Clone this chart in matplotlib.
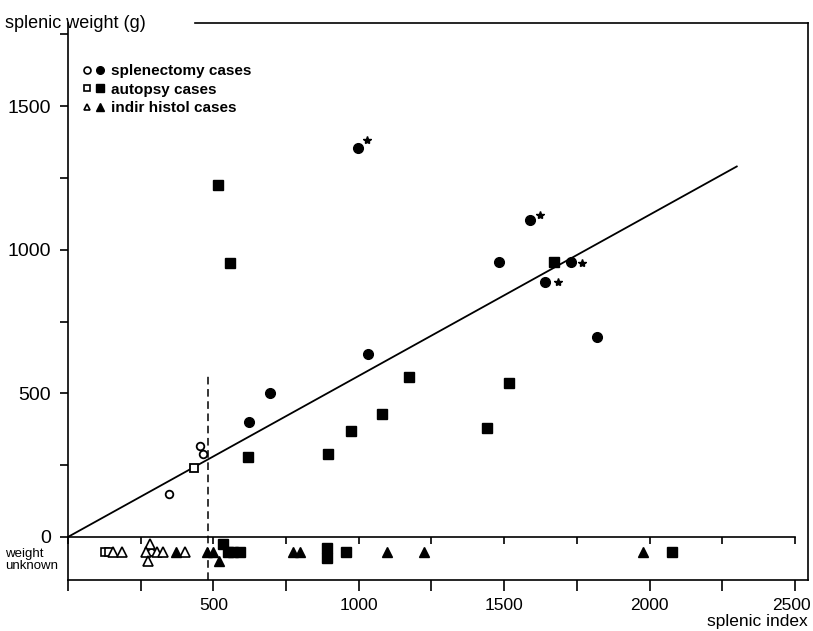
import matplotlib.pyplot as plt
from matplotlib.lines import Line2D
from matplotlib.legend_handler import HandlerTuple
from matplotlib.transforms import ScaledTranslation

plt.rcParams['font.family'] = ['Liberation Sans', 'DejaVu Sans']

# splenectomy cases (circles)
spl_open_x = [347, 454, 464]
spl_open_y = [150, 317, 289]
spl_fill_x = [997, 622, 695, 1032, 1482, 1589, 1640, 1730, 1819]
spl_fill_y = [1354, 400, 501, 637, 957, 1103, 888, 957, 696]

# autopsy cases (squares)
aut_open_x = [433]
aut_open_y = [240]
aut_fill_x = [516, 557, 619, 894, 973, 1080, 1173, 1441, 1517, 1671]
aut_fill_y = [1225, 954, 278, 289, 369, 428, 557, 379, 536, 957]

# small asterisks next to some cases
star_x = [1028, 1623, 1768, 1685]
star_y = [1382, 1121, 954, 888]

# weight unknown strip (y only places the mark inside the strip)
unk_spl_open_x = [284]
unk_spl_open_y = [-52]
unk_aut_open_x = [127, 141]
unk_aut_open_y = [-52, -52]
unk_aut_fill_x = [532, 550, 568, 591, 890, 890, 955, 2076]
unk_aut_fill_y = [-25, -52, -52, -52, -38, -72, -52, -52]
unk_ind_open_x = [154, 185, 282, 268, 305, 326, 275, 402]
unk_ind_open_y = [-52, -52, -25, -52, -52, -52, -84, -52]
unk_ind_fill_x = [371, 477, 500, 520, 775, 798, 1096, 1226, 1978]
unk_ind_fill_y = [-52, -52, -52, -84, -52, -52, -52, -52, -52]

reg_slope = 0.561
reg_xmax = 2300
cutoff_x = 480
cutoff_top = 564

xmin, xmax = 0, 2545
ymin, ymax = -150, 1790
xticks = list(range(0, 2501, 250))
xlabels = ['' if t % 500 or t == 0 else str(t) for t in xticks]
yticks = list(range(0, 1751, 250))
ylabels = [str(t) if t % 500 == 0 and t < 1750 else '' for t in yticks]

fig = plt.figure(figsize=(8.13, 6.31), dpi=100)
ax = fig.add_axes([68 / 813, 1 - 580 / 631, 740 / 813, 557 / 631])
ax.set_xlim(xmin, xmax)
ax.set_ylim(ymin, ymax)

lw = 1.2
for s in ['left', 'right', 'bottom']:
    ax.spines[s].set_linewidth(lw)
ax.spines['top'].set_visible(False)
ax.plot([0.172, 1], [1, 1], color='black', lw=lw, transform=ax.transAxes, clip_on=False)

ax.set_xticks(xticks)
ax.set_xticklabels(xlabels, fontsize=12.5)
ax.set_yticks(yticks)
ax.set_yticklabels(ylabels, fontsize=14)
ax.tick_params(axis='x', direction='out', length=8, width=lw, pad=5)
ax.tick_params(axis='y', direction='out', length=6, width=lw, pad=6)
# keep the last x label inside the figure
last = ax.get_xticklabels()[-1]
last.set_transform(last.get_transform() + ScaledTranslation(-3 / 100, 0, fig.dpi_scale_trans))

# y = 0 line separating the weight unknown strip
sec = ax.secondary_xaxis((0 - ymin) / (ymax - ymin))
sec.set_xticks(xticks)
sec.set_xticklabels([''] * len(xticks))
sec.tick_params(direction='out', length=5, width=lw)
sec.spines['bottom'].set_linewidth(lw)
sec.spines['bottom'].set_bounds(0, 2500)

# regression line and cut-off
ax.plot([0, reg_xmax], [0, reg_slope * reg_xmax], color='black', lw=1.3)
ax.plot([cutoff_x, cutoff_x], [ymin, cutoff_top], color='black', lw=1.1, ls=(0, (5, 3)))

ms_c, ms_s, ms_t = 7, 6.5, 6.5
ax.plot(spl_open_x, spl_open_y, 'o', ms=5.5, mfc='white', mec='black', mew=1.3, ls='none')
ax.plot(spl_fill_x, spl_fill_y, 'o', ms=ms_c, color='black', ls='none')
ax.plot(aut_open_x, aut_open_y, 's', ms=5.5, mfc='white', mec='black', mew=1.3, ls='none')
ax.plot(aut_fill_x, aut_fill_y, 's', ms=ms_s, color='black', ls='none')
ax.plot(star_x, star_y, '*', ms=6, color='black', ls='none')

ax.plot(unk_spl_open_x, unk_spl_open_y, 'o', ms=5, mfc='white', mec='black', mew=1.2, ls='none')
ax.plot(unk_aut_open_x, unk_aut_open_y, 's', ms=5.5, mfc='white', mec='black', mew=1.2, ls='none')
ax.plot(unk_aut_fill_x, unk_aut_fill_y, 's', ms=ms_s, color='black', ls='none')
ax.plot(unk_ind_open_x, unk_ind_open_y, '^', ms=ms_t, mfc='white', mec='black', mew=1.2, ls='none')
ax.plot(unk_ind_fill_x, unk_ind_fill_y, '^', ms=ms_t, color='black', ls='none')

# legend
def pair(m):
    o = Line2D([], [], marker=m, ms=5, mfc='white', mec='black', mew=1.2, ls='none')
    f = Line2D([], [], marker=m, ms=5.5, color='black', ls='none')
    return (o, f)

ax.legend([pair('o'), pair('s'), pair('^')],
          ['splenectomy cases', 'autopsy cases', 'indir histol cases'],
          handler_map={tuple: HandlerTuple(ndivide=None, pad=0.3)},
          loc='upper left', bbox_to_anchor=(0.01, 0.94), frameon=False,
          handlelength=1.4, handletextpad=0.4, labelspacing=0.3, borderpad=0,
          prop={'size': 11, 'weight': 'bold'})

ax.text(-0.085, 1.0, 'splenic weight (g)', transform=ax.transAxes, fontsize=13,
        ha='left', va='center')
ax.annotate('weight\nunknown', xy=(-0.085, -80), xycoords=('axes fraction', 'data'),
            fontsize=9.5, ha='left', va='center', linespacing=1.0)
ax.text(1.0, -0.074, 'splenic index', transform=ax.transAxes, fontsize=12.5,
        ha='right', va='center')

fig.savefig('out.png', dpi=100)
